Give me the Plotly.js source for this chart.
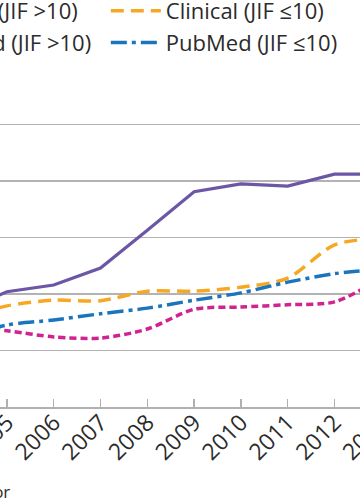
<!DOCTYPE html>
<html>
<head>
<meta charset="utf-8">
<script src="https://cdn.plot.ly/plotly-3.0.1.min.js"></script>
<style>
html,body{margin:0;padding:0;width:360px;height:504px;overflow:hidden;background:#fff;}
#chart{position:absolute;left:-160px;top:0;width:588px;height:504px;}
</style>
</head>
<body>
<div id="chart"></div>
<script>
var years = [2004, 2005, 2006, 2007, 2008, 2009, 2010, 2011, 2012, 2013];
var clinicalHigh = [1.68, 2.04, 2.16, 2.46, 3.13, 3.81, 3.95, 3.91, 4.12, 4.12];
var clinicalLow  = [1.56, 1.79, 1.89, 1.88, 2.05, 2.05, 2.12, 2.28, 2.87, 2.99];
var pubmedHigh   = [1.43, 1.35, 1.24, 1.22, 1.38, 1.73, 1.77, 1.81, 1.86, 2.28];
var pubmedLow    = [1.22, 1.45, 1.54, 1.65, 1.75, 1.89, 2.02, 2.21, 2.36, 2.44];
var seriesNames = ["Clinical (JIF >10)", "Clinical (JIF \u226410)", "PubMed (JIF >10)", "PubMed (JIF \u226410)"];
var yTicks = [0, 1, 2, 3, 4, 5, 6];
var footnote = "JIF=journal impact factor";

var traces = [
  {x: years, y: clinicalHigh, name: seriesNames[0], mode: "lines",
   line: {color: "#6b57a5", width: 3.2, shape: "linear"}},
  {x: years, y: clinicalLow, name: seriesNames[1], mode: "lines",
   line: {color: "#f7a823", width: 3.5, dash: "13px,7px", shape: "spline", smoothing: 0.8}},
  {x: years, y: pubmedHigh, name: seriesNames[2], mode: "lines",
   line: {color: "#cf2490", width: 3.5, dash: "7px,4px", shape: "spline", smoothing: 0.8}},
  {x: years, y: pubmedLow, name: seriesNames[3], mode: "lines",
   line: {color: "#1b75bc", width: 3.5, dash: "16px,5px,4px,5px", shape: "spline", smoothing: 0.8}}
];

var layout = {
  width: 588, height: 504,
  margin: {l: 100, r: 20, t: 68, b: 97, autoexpand: false},
  paper_bgcolor: "#ffffff", plot_bgcolor: "#ffffff",
  font: {family: "Open Sans, sans-serif", size: 22, color: "#2b2b2b"},
  showlegend: true,
  legend: {orientation: "h", x: -0.1713, xanchor: "left", y: 1.23, yanchor: "top",
           itemwidth: 50, entrywidth: 181, font: {size: 22, color: "#2b2b2b"},
           bgcolor: "rgba(0,0,0,0)", traceorder: "normal"},
  xaxis: {range: [2003.57, 2013.57], tickvals: years.slice(1), ticktext: years.slice(1).map(String),
          tickangle: -45, ticks: "inside", ticklen: 8, tickcolor: "#b0b0b0", tickwidth: 1.5,
          ticklabelstandoff: -9,
          showline: true, linecolor: "#b0b0b0", linewidth: 2, showgrid: false, zeroline: false,
          tickfont: {size: 23, color: "#2b2b2b"}},
  yaxis: {range: [0, 6], tickvals: yTicks, showgrid: true, gridcolor: "#b3b3b3", gridwidth: 1.8,
          zeroline: false, showline: false, ticks: "", tickfont: {size: 22, color: "#2b2b2b"}},
  annotations: [{text: footnote, xref: "paper", yref: "paper", x: 0.1538, y: -0.25,
                 xanchor: "right", yanchor: "middle", showarrow: false,
                 font: {size: 17, color: "#2b2b2b"}}]
};

Plotly.newPlot("chart", traces, layout, {staticPlot: true, displayModeBar: false});
</script>
</body>
</html>
